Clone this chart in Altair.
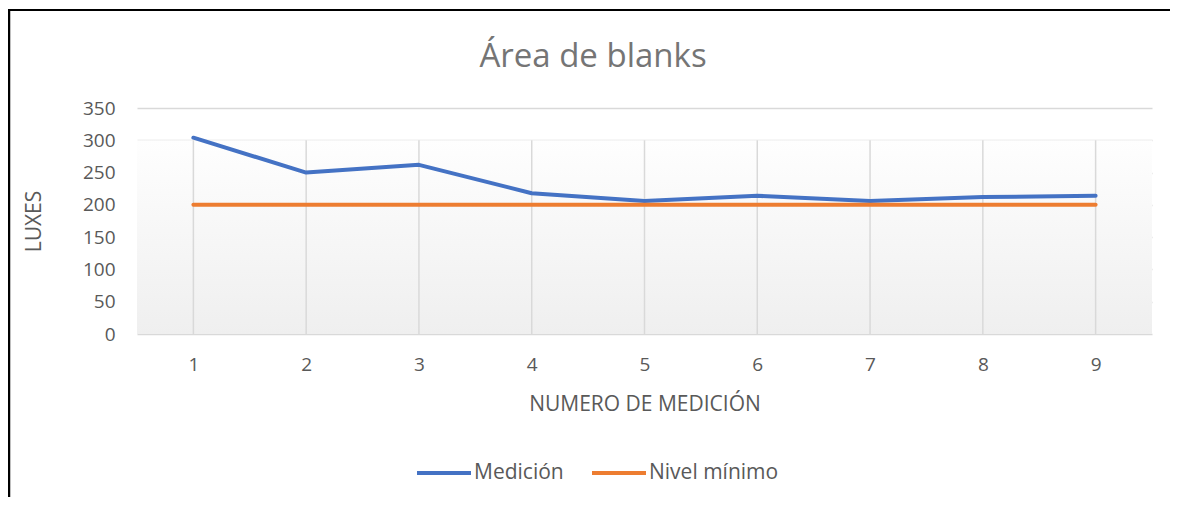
import altair as alt
import pandas as pd

mediciones = [1, 2, 3, 4, 5, 6, 7, 8, 9]
medicion_vals = [304, 250, 262, 218, 206, 214, 206, 212, 214]
nivel_minimo = [200, 200, 200, 200, 200, 200, 200, 200, 200]
series_names = ["Medición", "Nivel mínimo"]
series_colors = ["#4472C4", "#ED7D31"]
y_ticks = [0, 50, 100, 150, 200, 250, 300, 350]
chart_title = "Área de blanks"

rows = []
for m, v in zip(mediciones, medicion_vals):
    rows.append({"n": m, "v": v, "s": series_names[0]})
for m, v in zip(mediciones, nivel_minimo):
    rows.append({"n": m, "v": v, "s": series_names[1]})
df = pd.DataFrame(rows)
cat_df = pd.DataFrame({"n": mediciones})
one_df = pd.DataFrame({"t": [chart_title]})

W, H = 1015, 226
FONT = "Open Sans"
GRID = "#d9d9d9"

xscale = alt.Scale(type="point", padding=0.5, domain=mediciones)
yscale = alt.Scale(domain=[0, 350], nice=False)

x_axis = alt.Axis(title="NUMERO DE MEDICIÓN", labelAngle=0, grid=False, ticks=False,
                  domain=False, labelPadding=21, titlePadding=19)
y_axis = alt.Axis(title="LUXES", values=y_ticks, grid=True, ticks=False, domain=False,
                  labelPadding=22, labelOverlap=False, titlePadding=38)

bg = alt.Chart(one_df).mark_rect(
    color=alt.Gradient(gradient="linear", x1=0, x2=0, y1=0, y2=1,
                       stops=[alt.GradientStop(color="#fefefe", offset=0),
                              alt.GradientStop(color="#efefef", offset=1)])
).encode(
    x=alt.value(0), x2=alt.value(W),
    y=alt.datum(300, scale=yscale, axis=y_axis), y2=alt.datum(0),
)

vgrid = alt.Chart(cat_df).mark_rule(color=GRID, strokeWidth=1.5).encode(
    x=alt.X("n:O", scale=xscale, axis=x_axis),
    y=alt.datum(300, scale=yscale, axis=y_axis), y2=alt.datum(0),
)

lines = alt.Chart(df).mark_line(strokeWidth=4, strokeJoin="round", strokeCap="round").encode(
    x=alt.X("n:O", scale=xscale, axis=x_axis),
    y=alt.Y("v:Q", scale=yscale, axis=y_axis),
    color=alt.Color("s:N", scale=alt.Scale(domain=series_names, range=series_colors),
                    sort=series_names,
                    legend=alt.Legend(title=None, orient="none", direction="horizontal",
                                      legendX=278, legendY=336, symbolType="stroke",
                                      symbolSize=2916, symbolStrokeWidth=4,
                                      labelFontSize=21, labelFont=FONT, labelColor="#595959",
                                      labelOffset=1, columnPadding=20, labelLimit=300)),
)

title_mark = alt.Chart(one_df).mark_text(
    font=FONT, fontSize=33, color="#757575", align="center", baseline="alphabetic"
).encode(text="t:N", x=alt.value(456), y=alt.value(-41))

frame_top = alt.Chart(one_df).mark_rule(color="black", strokeWidth=2).encode(
    x=alt.value(-129), x2=alt.value(1041), y=alt.value(-98)
)
frame_left = alt.Chart(one_df).mark_rule(color="black", strokeWidth=2.5).encode(
    x=alt.value(-128), y=alt.value(-99), y2=alt.value(400)
)

chart = alt.layer(bg, vgrid, lines, title_mark, frame_top, frame_left).properties(
    width=W, height=H,
    autosize=alt.AutoSizeParams(type="none"),
    padding={"left": 129, "top": 100, "right": 18, "bottom": 163},
    background="white",
).configure_view(stroke=None).configure_axis(
    labelFont=FONT, titleFont=FONT, labelFontSize=19, titleFontSize=21,
    labelColor="#595959", titleColor="#595959", titleFontWeight="normal",
    gridColor=GRID, gridWidth=1.5,
)

chart.save("out.html", embed_options={"renderer": "svg", "actions": False})
